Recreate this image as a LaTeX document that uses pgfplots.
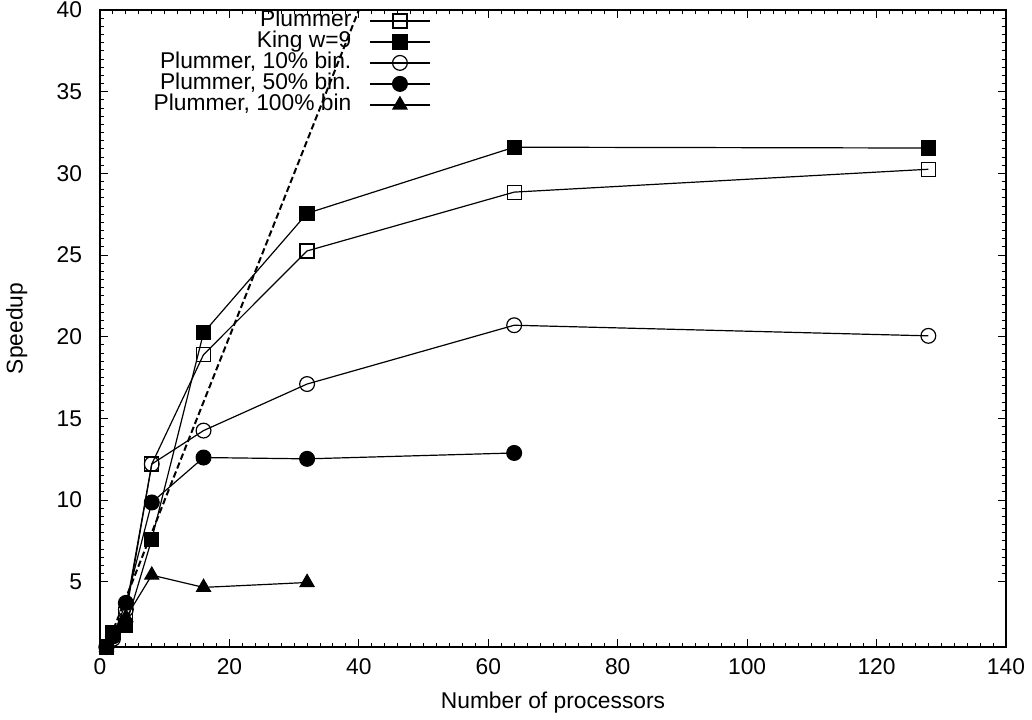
\documentclass[border=0pt]{standalone}
\usepackage{pgfplots}
\pgfplotsset{compat=1.18}
\usepackage{fontspec}
\setmainfont{Liberation Sans}
\newcommand{\ff}{\fontsize{11.4pt}{13pt}\selectfont}
\begin{document}
\begin{tikzpicture}
\begin{axis}[name=ax,
  scale only axis, width=453pt, height=318.5pt,
  xmin=0, xmax=140, ymin=1, ymax=40,
  xtick={0,20,...,140}, ytick={5,10,...,40},
  minor x tick num=9, minor y tick num=9,
  tick align=inside, major tick length=4pt, minor tick length=2pt,
  xtick pos=both, ytick pos=both,
  axis line style={line width=0.9pt},
  every tick/.style={black, line width=0.5pt},
  /pgf/number format/assume math mode=true,
  tick label style={font=\ff},
  yticklabel style={xshift=-5.5pt},
  xticklabel style={yshift=-2.5pt},
  label style={font=\ff},
  xlabel={Number of processors}, ylabel={Speedup},
  xlabel style={at={(axis description cs:0.5,-0.088)}, anchor=center},
  ylabel style={at={(axis description cs:-0.092,0.5)}, anchor=center},
  legend style={draw=none, fill=none, font=\ff, at={(0.3653,1.0)}, anchor=north east, legend cell align=right, row sep=0pt, inner sep=0pt,
    nodes={inner ysep=0pt, text height=8pt, text depth=2.5pt}},
  legend plot pos=right,
  legend image code/.code={\path (0pt,0pt); \draw[mark repeat=2,mark phase=2] plot coordinates {(7pt,0pt)(22pt,0pt)(37pt,0pt)};},
  every axis plot/.append style={black, line width=0.6pt},
]
\addplot[mark=square, mark size=3.5pt, mark options={solid,fill=none}] coordinates {(1,1)(2,1.9)(4,3.0)(8,12.2)(16,18.9)(32,25.25)(64,28.85)(128,30.25)};
\addlegendentry{Plummer}
\addplot[mark=square*, mark size=3.5pt] coordinates {(1,1)(2,1.9)(4,2.3)(8,7.6)(16,20.24)(32,27.55)(64,31.6)(128,31.55)};
\addlegendentry{King w=9}
\addplot[mark=o, mark size=3.7pt, mark options={solid,fill=none}] coordinates {(1,1)(2,1.5)(4,3.3)(8,12.2)(16,14.25)(32,17.1)(64,20.7)(128,20.05)};
\addlegendentry{Plummer, 10\% bin.}
\addplot[mark=*, mark size=3.7pt] coordinates {(1,1)(2,1.65)(4,3.7)(8,9.85)(16,12.6)(32,12.52)(64,12.88)};
\addlegendentry{Plummer, 50\% bin.}
\addplot[mark=triangle*, mark size=4pt] coordinates {(1,1)(2,1.7)(4,2.8)(8,5.4)(16,4.65)(32,4.95)};
\addlegendentry{Plummer, 100\% bin}
\addplot[forget plot, line width=1pt, dash pattern=on 3.2pt off 1.6pt, mark=none] coordinates {(1,1)(40,40)};
\end{axis}
\pgfresetboundingbox
\path ([shift={(-50pt,-36pt)}]ax.south west) rectangle ([shift={(13pt,5pt)}]ax.north east);
\end{tikzpicture}
\end{document}
